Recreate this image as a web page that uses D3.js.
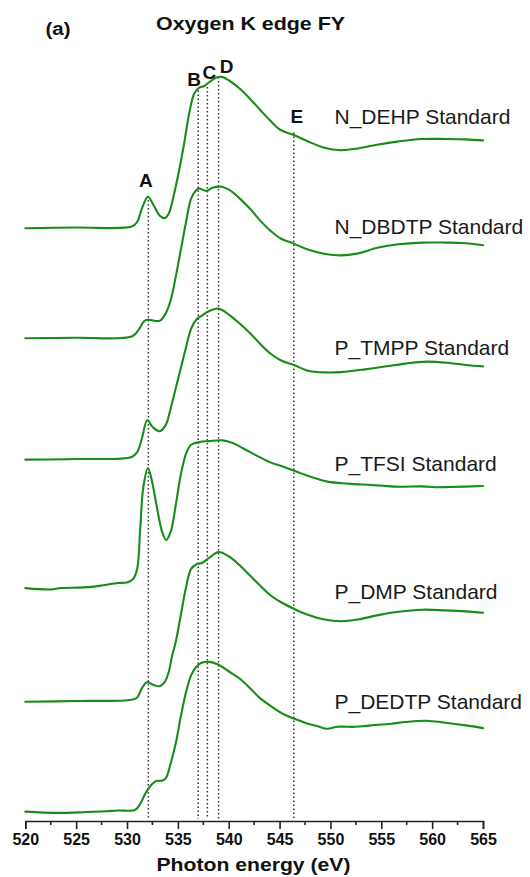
<!DOCTYPE html>
<html>
<head>
<meta charset="utf-8">
<script src="https://cdn.jsdelivr.net/npm/d3@7"></script>
<style>
  html, body { margin: 0; padding: 0; background: #ffffff; }
  svg { display: block; font-family: "Liberation Sans", Arial, sans-serif; }
</style>
</head>
<body>
<svg id="chart" width="530" height="877"></svg>
<script>
// O K-edge fluorescence-yield spectra, stacked with vertical offsets (arb. units)
const seriesNames = ["N_DEHP Standard", "N_DBDTP Standard", "P_TMPP Standard",
                     "P_TFSI Standard", "P_DMP Standard", "P_DEDTP Standard"];

const dehpE = [520, 525, 530.46, 531.0, 531.46, 532.06, 532.6, 533.2, 533.7, 534.1, 534.6, 535.1, 535.6, 536.1, 536.6, 537.1, 537.6, 538.1, 538.8, 539.3, 540.1, 541.1, 542.1, 543.1, 544.1, 545.1, 546.4, 547.7, 549.4, 551.05, 552.7, 554.7, 556.7, 559.0, 561.3, 563.3, 565];
const dehpI = [5.928, 5.935, 5.944, 5.99, 6.124, 6.242, 6.16, 6.056, 6.029, 6.073, 6.26, 6.495, 6.765, 7.07, 7.272, 7.333, 7.35, 7.39, 7.434, 7.441, 7.40, 7.323, 7.221, 7.11, 7.002, 6.91, 6.86, 6.80, 6.732, 6.708, 6.725, 6.765, 6.796, 6.82, 6.82, 6.816, 6.806];

const dbdtpE = [520, 525, 530.46, 531.1, 531.7, 532.1, 532.8, 533.3, 533.8, 534.3, 534.8, 535.3, 535.8, 536.3, 536.8, 537.1, 537.8, 538.4, 539.3, 540.1, 541.1, 542.1, 543.1, 544.1, 545.1, 546.4, 547.7, 549.4, 551.05, 552.7, 554.7, 556.7, 559.0, 561.3, 563.3, 565];
const dbdtpI = [4.828, 4.832, 4.845, 4.906, 5.00, 5.014, 5.00, 5.007, 5.075, 5.21, 5.446, 5.717, 5.987, 6.224, 6.308, 6.325, 6.301, 6.332, 6.342, 6.308, 6.224, 6.122, 6.004, 5.903, 5.825, 5.774, 5.717, 5.673, 5.656, 5.676, 5.734, 5.767, 5.784, 5.784, 5.778, 5.757];

const tmppE = [520, 525, 530.46, 531.0, 531.46, 532.0, 532.5, 533.2, 533.8, 534.3, 534.8, 535.3, 535.8, 536.3, 536.8, 537.4, 538.1, 539.0, 540.1, 541.1, 542.1, 543.1, 544.1, 545.1, 546.4, 547.7, 549.4, 551.05, 553.4, 555.7, 557.4, 559.4, 561.7, 563.3, 565];
const tmppI = [3.614, 3.62, 3.641, 3.688, 3.824, 4.01, 3.942, 3.898, 3.959, 4.128, 4.33, 4.533, 4.736, 4.921, 5.013, 5.057, 5.10, 5.124, 5.057, 4.972, 4.878, 4.77, 4.675, 4.607, 4.56, 4.506, 4.486, 4.489, 4.516, 4.55, 4.574, 4.594, 4.58, 4.56, 4.546];

const tfsiE = [520, 522.5, 523.5, 525.8, 527.5, 529.1, 530, 530.6, 531.0, 531.3, 531.6, 532.06, 532.45, 532.95, 533.45, 533.85, 534.3, 534.8, 535.3, 535.8, 536.3, 537.1, 538.1, 539.4, 540.4, 541.4, 542.75, 544.1, 545.4, 546.7, 548.1, 549.7, 551.7, 554.0, 555.2, 556.7, 559.0, 560.3, 561.7, 565];
const tfsiI = [2.329, 2.315, 2.33, 2.336, 2.355, 2.38, 2.386, 2.42, 2.522, 2.928, 3.333, 3.529, 3.40, 3.13, 2.894, 2.81, 2.894, 3.164, 3.468, 3.671, 3.762, 3.789, 3.799, 3.806, 3.779, 3.728, 3.654, 3.586, 3.542, 3.492, 3.441, 3.394, 3.374, 3.36, 3.352, 3.343, 3.346, 3.338, 3.34, 3.35];

const dmpE = [520, 525, 530.46, 531.0, 531.46, 531.96, 532.6, 533.2, 533.7, 534.1, 534.45, 534.8, 535.3, 535.8, 536.3, 536.8, 537.4, 538.1, 539.0, 540.1, 541.1, 542.1, 543.1, 544.1, 545.1, 546.4, 547.7, 549.4, 551.05, 552.7, 554.7, 556.7, 559.0, 561.3, 563.3, 565];
const dmpI = [1.192, 1.20, 1.213, 1.236, 1.328, 1.388, 1.361, 1.348, 1.388, 1.49, 1.659, 1.795, 2.065, 2.336, 2.521, 2.565, 2.582, 2.633, 2.69, 2.64, 2.555, 2.454, 2.353, 2.258, 2.19, 2.123, 2.065, 2.015, 1.998, 2.015, 2.059, 2.092, 2.113, 2.106, 2.096, 2.082];

const dedtpE = [520, 523.2, 526, 528, 529.1, 530.8, 531.3, 531.8, 532.45, 532.95, 533.4, 533.8, 534.3, 534.8, 535.3, 535.8, 536.3, 536.8, 537.4, 538.1, 538.9, 540.1, 541.1, 542.1, 543.1, 544.1, 545.4, 546.4, 547.7, 548.7, 549.7, 550.7, 552.4, 554.0, 556.0, 557.4, 559.4, 561.3, 563.3, 565];
const dedtpI = [0.094, 0.081, 0.09, 0.097, 0.105, 0.111, 0.172, 0.274, 0.368, 0.402, 0.402, 0.426, 0.578, 0.78, 1.05, 1.287, 1.456, 1.54, 1.584, 1.591, 1.567, 1.49, 1.422, 1.328, 1.226, 1.152, 1.067, 1.024, 0.976, 0.949, 0.922, 0.942, 0.942, 0.956, 0.973, 0.99, 1.003, 0.983, 0.956, 0.929];

const seriesE = [dehpE, dbdtpE, tmppE, tfsiE, dmpE, dedtpE];
const seriesI = [dehpI, dbdtpI, tmppI, tfsiI, dmpI, dedtpI];
// where each series name sits (energy, intensity of text baseline)
const labelE = [550.4, 550.4, 550.4, 550.4, 550.4, 550.4];
const labelI = [6.97, 5.87, 4.66, 3.50, 2.225, 1.125];

// feature markers A-E: energy and the top of each guide line
const markerNames = ["A", "B", "C", "D", "E"];
const markerE = [532.1, 537.0, 537.9, 539.0, 546.4];
const markerTop = [6.21, 7.306, 7.34, 7.44, 6.884];
const markerLabelE = [531.85, 536.6, 538.1, 539.8, 546.7];
const markerLabelI = [6.345, 7.35, 7.42, 7.485, 6.98];

const xTicks = [520, 525, 530, 535, 540, 545, 550, 555, 560, 565];
const xMinorTicks = [522.5, 527.5, 532.5, 537.5, 542.5, 547.5, 552.5, 557.5, 562.5];

const svg = d3.select("#chart");
const x = d3.scaleLinear().domain([520, 565]).range([25.3, 483]);
const y = d3.scaleLinear().domain([0, 7.6]).range([821, 61]);

const green = "#178c17";

// dotted guide lines
svg.append("g").selectAll("line").data(markerE).join("line")
  .attr("x1", d => x(d)).attr("x2", d => x(d))
  .attr("y1", (d, i) => y(markerTop[i])).attr("y2", y(0.02))
  .attr("stroke", "#333").attr("stroke-width", 1.5)
  .attr("stroke-dasharray", "1.5,2.5");

// spectra
const line = d3.line().x(d => x(d[0])).y(d => y(d[1])).curve(d3.curveCatmullRom.alpha(0.5));
seriesE.forEach((es, i) => {
  const pts = es.map((e, k) => [e, seriesI[i][k]]);
  svg.append("path").datum(pts)
    .attr("d", line).attr("fill", "none")
    .attr("stroke", green).attr("stroke-width", 2.1)
    .attr("stroke-linejoin", "round").attr("stroke-linecap", "round");
});

// series names
svg.append("g").selectAll("text").data(seriesNames).join("text")
  .attr("x", (d, i) => x(labelE[i])).attr("y", (d, i) => y(labelI[i]))
  .attr("font-size", 21).attr("fill", "#1a1a1a").text(d => d);

// marker letters
svg.append("g").selectAll("text").data(markerNames).join("text")
  .attr("x", (d, i) => x(markerLabelE[i])).attr("y", (d, i) => y(markerLabelI[i]))
  .attr("text-anchor", "middle").attr("font-size", 19).attr("font-weight", "bold")
  .attr("fill", "#111").text(d => d);

// x axis
const axis = d3.axisBottom(x).tickValues(xTicks).tickSize(8).tickPadding(5).tickFormat(d3.format("d"));
const gx = svg.append("g").attr("transform", `translate(0,${y(0)})`).call(axis);
gx.select(".domain").attr("stroke", "#222").attr("stroke-width", 1.6);
gx.selectAll(".tick line").attr("stroke", "#222").attr("stroke-width", 1.6);
gx.selectAll(".tick text").attr("font-size", 16).attr("font-weight", "bold")
  .attr("font-family", "Liberation Sans, Arial, sans-serif").attr("fill", "#111");
gx.selectAll(".minor").data(xMinorTicks).join("line").attr("class", "minor")
  .attr("x1", d => x(d)).attr("x2", d => x(d)).attr("y1", 0).attr("y2", 4)
  .attr("stroke", "#222").attr("stroke-width", 1.6);

svg.append("text").attr("x", 253.5).attr("y", 871).attr("text-anchor", "middle")
  .attr("font-size", 19).attr("font-weight", "bold").attr("fill", "#111")
  .attr("textLength", 194).attr("lengthAdjust", "spacingAndGlyphs")
  .text("Photon energy (eV)");

// titles
svg.append("text").attr("x", 250.5).attr("y", 29.5).attr("text-anchor", "middle")
  .attr("font-size", 19).attr("font-weight", "bold").attr("fill", "#111")
  .attr("textLength", 189).attr("lengthAdjust", "spacingAndGlyphs")
  .text("Oxygen K edge FY");
svg.append("text").attr("x", 45.5).attr("y", 35).attr("font-size", 18)
  .attr("font-weight", "bold").attr("fill", "#111")
  .attr("textLength", 25).attr("lengthAdjust", "spacingAndGlyphs")
  .text("(a)");
</script>
</body>
</html>
